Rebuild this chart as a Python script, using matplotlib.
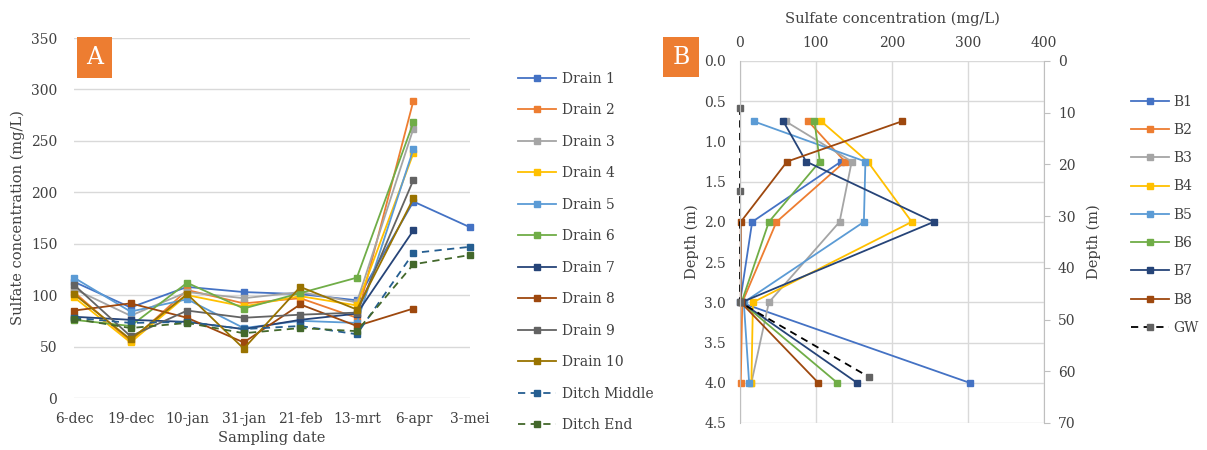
import numpy as np
import matplotlib
matplotlib.use('Agg')
import matplotlib.pyplot as plt

plt.rcParams['font.family'] = 'DejaVu Serif'
plt.rcParams['font.size'] = 10

# ---- panel A data ----
dates = ['6-dec', '19-dec', '10-jan', '31-jan', '21-feb', '13-mrt', '6-apr', '3-mei']
nan = np.nan
drain1 = [113, 88, 108, 103, 101, 95, 191, 166]
drain2 = [103, 55, 105, 92, 97, 78, 289, nan]
drain3 = [106, 80, 103, 97, 103, 93, 262, nan]
drain4 = [98, 54, 100, 89, 99, 90, 238, nan]
drain5 = [117, 84, 96, 68, 75, 73, 242, nan]
drain6 = [76, 70, 112, 87, 102, 117, 268, nan]
drain7 = [79, 76, 74, 67, 76, 82, 163, nan]
drain8 = [85, 92, 78, 54, 91, 70, 87, nan]
drain9 = [110, 60, 85, 78, 81, 83, 212, nan]
drain10 = [101, 57, 101, 48, 108, 86, 194, nan]
ditch_middle = [78, 73, 74, 67, 70, 62, 141, 147]
ditch_end = [77, 68, 73, 63, 68, 65, 130, 139]

series_a = [
    ('Drain 1', drain1, '#4472C4', '-'),
    ('Drain 2', drain2, '#ED7D31', '-'),
    ('Drain 3', drain3, '#A5A5A5', '-'),
    ('Drain 4', drain4, '#FFC000', '-'),
    ('Drain 5', drain5, '#5B9BD5', '-'),
    ('Drain 6', drain6, '#70AD47', '-'),
    ('Drain 7', drain7, '#264478', '-'),
    ('Drain 8', drain8, '#9E480E', '-'),
    ('Drain 9', drain9, '#636363', '-'),
    ('Drain 10', drain10, '#997300', '-'),
    ('Ditch Middle', ditch_middle, '#255E91', '--'),
    ('Ditch End', ditch_end, '#43682B', '--'),
]

# ---- panel B data ----
depths = [0.75, 1.25, 2.0, 3.0, 4.0]
b1 = [nan, 133, 16, 0, 302]
b2 = [90, 138, 48, 3, 1]
b3 = [60, 147, 131, 38, 15]
b4 = [107, 168, 226, 17, 15]
b5 = [18, 165, 163, 5, 12]
b6 = [98, 105, 38, 2, 128]
b7 = [57, 87, 255, 2, 154]
b8 = [213, 62, 1, 1, 103]
gw_depths = [0.58, 1.62, 3.0, 3.93]
gw = [0, 0, 0, 170]

series_b = [
    ('B1', b1, '#4472C4'),
    ('B2', b2, '#ED7D31'),
    ('B3', b3, '#A5A5A5'),
    ('B4', b4, '#FFC000'),
    ('B5', b5, '#5B9BD5'),
    ('B6', b6, '#70AD47'),
    ('B7', b7, '#264478'),
    ('B8', b8, '#9E480E'),
]

txt = '#404040'
grid = '#D9D9D9'
W, H = 1207, 450
fig = plt.figure(figsize=(W / 100, H / 100), dpi=100)

# ================= panel A =================
axA = fig.add_axes([74 / W, 1 - 398 / H, 396 / W, 360 / H])
x = np.arange(len(dates))
handles = []
for name, vals, col, ls in series_a:
    h, = axA.plot(x, vals, color=col, ls=ls, lw=1.3, marker='s', ms=4.2,
                  label=name, clip_on=False,
                  dashes=(4, 3) if ls == '--' else (None, None))
    handles.append(h)
axA.set_xlim(0, 7)
axA.set_ylim(0, 350)
axA.set_yticks(np.arange(0, 351, 50))
axA.set_xticks(x)
axA.set_xticklabels(dates)
axA.yaxis.grid(True, color=grid, lw=1)
axA.set_axisbelow(True)
for s in axA.spines.values():
    s.set_visible(False)
axA.tick_params(length=0, colors=txt, labelsize=10)
axA.tick_params(axis='x', pad=10)
axA.tick_params(axis='y', pad=12)
axA.set_xlabel('Sampling date', color=txt, fontsize=10.5, labelpad=4)
axA.set_ylabel('Sulfate concentration (mg/L)', color=txt, fontsize=10.5, labelpad=4)
fig.text(94.5 / W, 1 - 57.5 / H, 'A', ha='center', va='center', color='white', fontsize=17,
         bbox=dict(boxstyle='square,pad=0.38', fc='#ED7D31', ec='none'))

legA = fig.legend(handles=handles, loc='upper left', bbox_to_anchor=(505 / W, 1 - 59 / H),
                  frameon=False, handlelength=2.8, labelspacing=1.26, fontsize=10,
                  handletextpad=0.4)
for t in legA.get_texts():
    t.set_color(txt)

# ================= panel B =================
axB = fig.add_axes([740 / W, 1 - 423 / H, 304 / W, 362 / H])
hb = []
for name, vals, col in series_b:
    h, = axB.plot(vals, depths, color=col, lw=1.3, marker='s', ms=4.2, label=name,
                  clip_on=False)
    hb.append(h)
h, = axB.plot(gw, gw_depths, color='black', ls='--', dashes=(4, 3), lw=1.3, marker='s',
              ms=4.2, mfc='#636363', mec='#636363', label='GW', clip_on=False)
hb.append(h)
axB.set_xlim(0, 400)
axB.set_ylim(4.5, 0)
axB.set_xticks(np.arange(0, 401, 100))
axB.set_yticks(np.arange(0, 4.51, 0.5))
axB.set_yticklabels(['%.1f' % v for v in np.arange(0, 4.51, 0.5)])
axB.xaxis.tick_top()
axB.xaxis.set_label_position('top')
axB.grid(True, color=grid, lw=1)
axB.set_axisbelow(True)
for k, s in axB.spines.items():
    s.set_visible(k == 'left')
    s.set_color('#BFBFBF')
axB.tick_params(length=0, colors=txt, labelsize=10)
axB.tick_params(axis='y', pad=10)
axB.tick_params(axis='x', pad=8)
axB.set_xlabel('Sulfate concentration (mg/L)', color=txt, fontsize=10.5, labelpad=9)
axB.set_ylabel('Depth (m)', color=txt, fontsize=10.5, labelpad=4)

axB2 = axB.twinx()
axB2.set_ylim(70, 0)
axB2.set_yticks(np.arange(0, 71, 10))
for k, s in axB2.spines.items():
    s.set_visible(k == 'right')
    s.set_color('#BFBFBF')
axB2.tick_params(axis='y', length=4, color='#BFBFBF', labelcolor=txt, labelsize=10, pad=6)
axB2.set_ylabel('Depth (m)', color=txt, fontsize=10.5, labelpad=8)

fig.text(681 / W, 1 - 57 / H, 'B', ha='center', va='center', color='white', fontsize=17,
         bbox=dict(boxstyle='square,pad=0.38', fc='#ED7D31', ec='none'))

legB = fig.legend(handles=hb, loc='upper left', bbox_to_anchor=(1118 / W, 1 - 82 / H),
                  frameon=False, handlelength=2.8, labelspacing=1.03, fontsize=10,
                  handletextpad=0.3)
for t in legB.get_texts():
    t.set_color(txt)

fig.savefig('out.png', dpi=100)
